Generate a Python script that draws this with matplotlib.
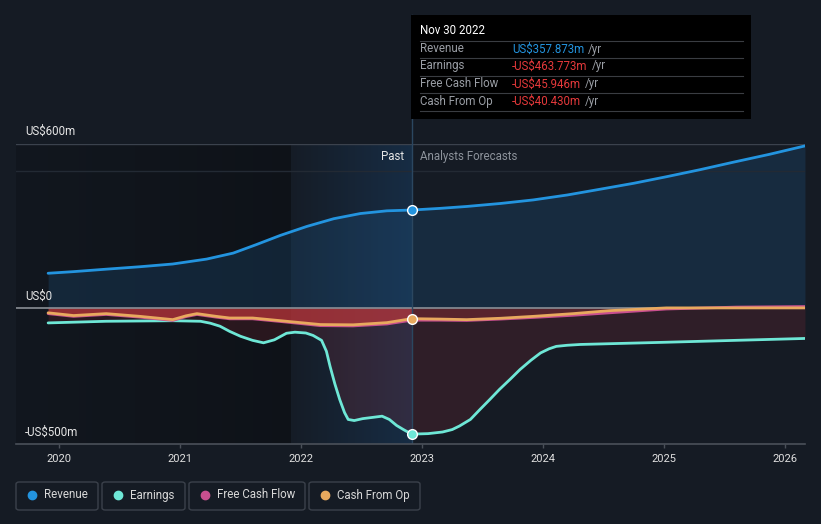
import numpy as np
import matplotlib
matplotlib.use("Agg")
import matplotlib.pyplot as plt
from matplotlib.patches import FancyBboxPatch, Rectangle
from matplotlib.lines import Line2D

plt.rcParams['font.family'] = ['Roboto', 'DejaVu Sans']

# ---------------- data (decimal years, US$ millions) ----------------
rev_x = [2019.91, 2020.12, 2020.39, 2020.67, 2020.94, 2021.22, 2021.44, 2021.63, 2021.83, 2022.05,
         2022.27, 2022.49, 2022.71, 2022.915,
         2023.15, 2023.37, 2023.65, 2023.92, 2024.20, 2024.47, 2024.75, 2025.02, 2025.30, 2025.57,
         2025.87, 2026.165]
rev_y = [126, 132, 141, 150, 160, 178, 200, 231, 265, 298,
         326, 345, 355, 357.873,
         364, 371, 382, 395, 413, 434, 456, 480, 506, 533,
         562, 593]

earn_x = [2019.91, 2020.39, 2020.94, 2021.17, 2021.25, 2021.33, 2021.41, 2021.50, 2021.60, 2021.69,
          2021.78, 2021.88, 2021.95, 2022.04, 2022.10, 2022.17, 2022.21, 2022.24, 2022.28, 2022.32,
          2022.36, 2022.39, 2022.44, 2022.51, 2022.60, 2022.67, 2022.73, 2022.79, 2022.85, 2022.915,
          2023.05, 2023.17, 2023.25, 2023.31, 2023.40, 2023.48, 2023.56, 2023.64, 2023.73, 2023.81,
          2023.90, 2023.98, 2024.05, 2024.11, 2024.20, 2024.31, 2025.01, 2026.165]
earn_y = [-56, -50, -48, -50, -57, -68, -87, -105, -120, -129,
          -118, -94, -90, -93, -102, -120, -160, -215, -280, -337,
          -385, -410, -414, -407, -402, -398, -410, -432, -448, -463.773,
          -462, -456, -447, -434, -410, -373, -337, -300, -262, -227,
          -193, -166, -151, -142, -138, -135, -127, -113]

cfo_x = [2019.91, 2020.12, 2020.39, 2020.67, 2020.94, 2021.05, 2021.14, 2021.30, 2021.41, 2021.60, 2021.88,
         2022.16, 2022.43, 2022.71, 2022.915, 2023.15, 2023.37, 2023.65, 2023.92, 2024.25, 2024.55, 2025.02,
         2025.60, 2026.165]
cfo_y = [-19, -29, -22, -32, -44, -30, -22, -32, -38, -38, -50,
         -62, -63, -55, -40.430, -42, -44, -39, -32, -22, -11, -1,
         -1, -1]

fcf_x = [2019.91, 2020.12, 2020.39, 2020.67, 2020.94, 2021.05, 2021.14, 2021.30, 2021.41, 2021.60, 2021.88,
         2022.16, 2022.43, 2022.71, 2022.915, 2023.15, 2023.37, 2023.65, 2023.92, 2024.25, 2024.55, 2025.02,
         2025.60, 2026.165]
fcf_y = [-22, -32, -25, -35, -47, -33, -25, -35, -41, -41, -53,
         -66, -67, -60, -45.946, -46, -47, -42, -36, -28, -19, -5,
         2, 4]

year_ticks = [2020, 2021, 2022, 2023, 2024, 2025, 2026]
year_labels = ["2020", "2021", "2022", "2023", "2024", "2025", "2026"]

tooltip_date = "Nov 30 2022"
tooltip_rows = ["Revenue", "Earnings", "Free Cash Flow", "Cash From Op"]
tooltip_vals = ["US$357.873m", "-US$463.773m", "-US$45.946m", "-US$40.430m"]

legend_names = ["Revenue", "Earnings", "Free Cash Flow", "Cash From Op"]

# ---------------- style ----------------
BG = '#151b24'
C_REV = '#2394df'
C_EARN = '#6ee7d6'
C_FCF = '#c94f8f'
C_CFO = '#e8a95e'
C_RED = '#e5393b'

W, H = 821, 524
fig = plt.figure(figsize=(W / 100, H / 100), dpi=100, facecolor=BG)

def fx(px):
    return px / W

def fy(py):
    return 1 - py / H

ax_l, ax_r, ax_t, ax_b = 16, 805, 144, 444
ax = fig.add_axes([fx(ax_l), fy(ax_b), (ax_r - ax_l) / W, (ax_b - ax_t) / H])
ax.set_facecolor(BG)
x0 = 2020 + (ax_l - 59) / 121
x1 = 2020 + (ax_r - 59) / 121
ax.set_xlim(x0, x1)
ax.set_ylim(-500, 600)
now = 2022.915
past_start = 2021.915

# dark region before the past year
dark = np.zeros((1, 50, 4))
dark[..., 3] = np.linspace(0.15, 0.32, 50)
ax.imshow(dark, extent=[x0, past_start, -500, 600], aspect='auto', zorder=0.5, interpolation='bilinear')
# past highlight gradient
hl = np.zeros((1, 50, 4))
hl[..., 0] = 0.12
hl[..., 1] = 0.42
hl[..., 2] = 0.72
hl[..., 3] = np.linspace(0.02, 0.22, 50)
ax.imshow(hl, extent=[past_start, now, -500, 600], aspect='auto', zorder=0.6, interpolation='bilinear')

# fills
ax.fill_between(rev_x, rev_y, 0, color='#1f5f95', alpha=0.24, lw=0, zorder=1)
ax.fill_between(earn_x, earn_y, 0, color='#b8323e', alpha=0.16, lw=0, zorder=1)
for xs, ys in [(fcf_x, fcf_y), (cfo_x, cfo_y)]:
    i = xs.index(now)
    ax.fill_between(xs[:i + 1], ys[:i + 1], 0, color='#c8383c', alpha=0.42, lw=0, zorder=1)
    ax.fill_between(xs[i:], ys[i:], 0, color='#c8383c', alpha=0.15, lw=0, zorder=1)

# grid lines
ax.axhline(600, color='#3b424d', lw=1.0, zorder=2)
ax.axhline(500, color='#232a34', lw=1.0, zorder=2)
ax.axhline(0, color='#8a8f96', lw=1.2, zorder=2)

# vertical now line
ax.axvline(now, color='#2b4760', lw=1.0, zorder=2.5)

# lines
ax.plot(rev_x, rev_y, color=C_REV, lw=2.0, zorder=4, solid_capstyle='round', solid_joinstyle='round')
ax.plot(earn_x, earn_y, color=C_EARN, lw=2.0, zorder=4, solid_capstyle='round', solid_joinstyle='round')
ax.plot(fcf_x, fcf_y, color=C_FCF, lw=2.0, zorder=4, solid_capstyle='round', solid_joinstyle='round')
ax.plot(cfo_x, cfo_y, color=C_CFO, lw=2.0, zorder=4.1, solid_capstyle='round', solid_joinstyle='round')

# markers at now
for xs, ys, c in [(rev_x, rev_y, C_REV), (earn_x, earn_y, C_EARN), (cfo_x, cfo_y, C_CFO)]:
    i = xs.index(now)
    ax.plot([xs[i]], [ys[i]], 'o', ms=7, mfc=c, mec='white', mew=1.0, zorder=6)

# Past / Analysts Forecasts
ax.text(now - 0.06, 555, "Past", color='#e6e6e6', fontsize=8.3, ha='right', va='center', zorder=7)
ax.text(now + 0.07, 555, "Analysts Forecasts", color='#8d939b', fontsize=8.3, ha='left', va='center', zorder=7)

# axes styling
for s in ['top', 'right', 'left']:
    ax.spines[s].set_visible(False)
ax.spines['bottom'].set_color('#4a5059')
ax.spines['bottom'].set_linewidth(1.2)
ax.set_yticks([])
ax.set_xticks(year_ticks)
ax.set_xticklabels(year_labels)
ax.tick_params(axis='x', colors='#4a5059', length=3, width=1, pad=4, labelcolor='#e0e0e0', labelsize=8)

# y labels
fig.text(fx(25), fy(131), "US$600m", color='#e6e6e6', fontsize=8.3, ha='left', va='center')
fig.text(fx(25), fy(296), "US$0", color='#e6e6e6', fontsize=8.3, ha='left', va='center')
fig.text(fx(25), fy(432), "-US$500m", color='#e6e6e6', fontsize=8.3, ha='left', va='center')

# vertical line into tooltip
fig.add_artist(Line2D([fx(411.7), fx(411.7)], [fy(15), fy(ax_t)], color='#2b4760', lw=1.0, zorder=1))

# tooltip
fig.add_artist(Rectangle((fx(411), fy(119)), (751 - 411) / W, (119 - 15) / H,
                         facecolor='black', edgecolor='none', zorder=3))
fig.text(fx(420), fy(31), tooltip_date, color='white', fontsize=8.3, ha='left', va='center', zorder=4)
row_y = [49, 66, 84, 101]
sep_y = [41, 58, 76, 93, 111]
for yy in sep_y:
    fig.add_artist(Line2D([fx(420), fx(743)], [fy(yy), fy(yy)], color='#3a3d42', lw=0.8, zorder=4))
val_texts = []
for i, (lab, val) in enumerate(zip(tooltip_rows, tooltip_vals)):
    fig.text(fx(420), fy(row_y[i]), lab, color='#9a9ea5', fontsize=8.3, ha='left', va='center', zorder=5)
    c = C_REV if i == 0 else C_RED
    t = fig.text(fx(512), fy(row_y[i]), val, color=c, fontsize=8.3, ha='left', va='center', zorder=5)
    val_texts.append(t)

fig.canvas.draw()
r = fig.canvas.get_renderer()
for i, t in enumerate(val_texts):
    bb = t.get_window_extent(renderer=r)
    fig.text((bb.x1 + 4) / W, fy(row_y[i]), "/yr", color='#9a9ea5', fontsize=8.3, ha='left', va='center', zorder=5)

# legend
boxes = [(16, 98), (102, 185), (189, 305), (309, 420)]
colors = [C_REV, C_EARN, C_FCF, C_CFO]
for (bx0, bx1), name, c in zip(boxes, legend_names, colors):
    fig.add_artist(FancyBboxPatch((fx(bx0), fy(510)), (bx1 - bx0) / W, 28 / H,
                                  boxstyle="round,pad=0,rounding_size=0.004",
                                  facecolor='none', edgecolor='#3b414b', lw=1.0))
    fig.add_artist(Line2D([fx(bx0 + 16)], [fy(495)], marker='o', ms=6, color=c, mec=c, lw=0))
    fig.text(fx(bx0 + 28), fy(495), name, color='#d8d8d8', fontsize=8.3, ha='left', va='center')

fig.savefig("out.png", dpi=100, facecolor=BG)
